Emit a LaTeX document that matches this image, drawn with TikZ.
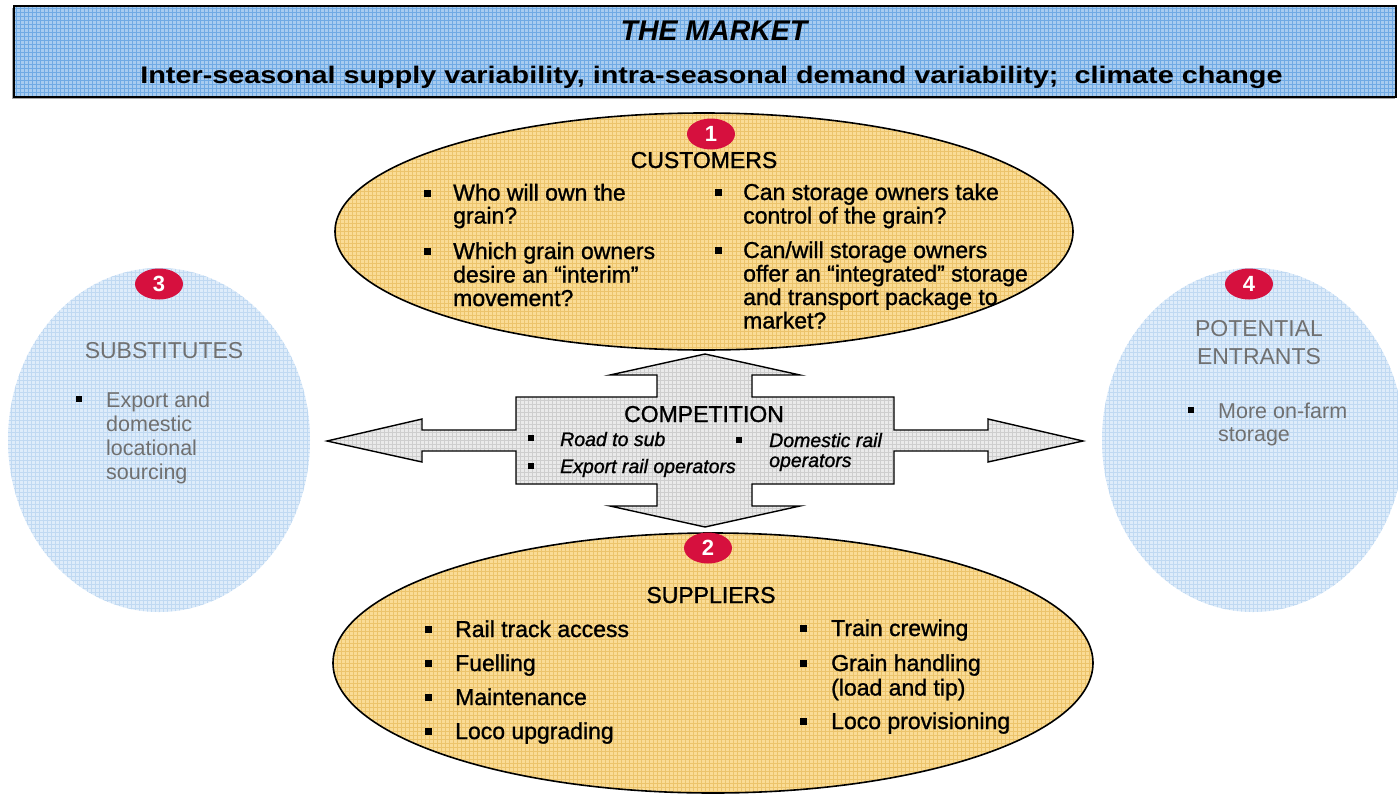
\documentclass[tikz,border=0pt]{standalone}
\usepackage{fontspec}
\setmainfont{Liberation Sans}
\newfontface\medface[FakeBold=1.2]{Liberation Sans}
\newfontface\meditface[FakeBold=1.2]{Liberation Sans Italic}
\usetikzlibrary{shapes.geometric}
\definecolor{bannerfill}{RGB}{168,204,240}
\definecolor{bannergrid}{RGB}{112,170,228}
\definecolor{orangefill}{RGB}{250,220,150}
\definecolor{orangegrid}{RGB}{236,196,108}
\definecolor{bluefill}{RGB}{222,236,250}
\definecolor{bluegrid}{RGB}{192,217,242}
\definecolor{greyfill}{RGB}{234,234,234}
\definecolor{greygrid}{RGB}{206,206,206}
\definecolor{badgered}{RGB}{214,16,62}
\definecolor{greytext}{RGB}{112,112,112}
\tikzset{
  gridded/.style={path picture={\draw[#1, line width=0.5pt] (path picture bounding box.south west) grid[step=4pt] (path picture bounding box.north east);}},
  oval/.style={ellipse, draw=black, line width=1.6pt, inner sep=0pt, outer sep=0pt, fill=orangefill, gridded=orangegrid},
  sideoval/.style={ellipse, inner sep=0pt, outer sep=0pt, fill=bluefill, gridded=bluegrid, minimum width=302pt, minimum height=344pt},
  badge/.style={ellipse, fill=badgered, text=white, font=\fontsize{22}{22}\selectfont\bfseries, minimum width=48pt, minimum height=31pt, inner sep=0pt},
  ttl/.style={font=\fontsize{23}{23}\selectfont\medface, anchor=base, inner sep=0pt},
  gttl/.style={font=\fontsize{23}{23}\selectfont, anchor=base, inner sep=0pt, text=greytext},
  itm/.style={font=\fontsize{23}{23}\selectfont\medface, anchor=base west, inner sep=0pt},
  gitm/.style={font=\fontsize{21.5}{21.5}\selectfont, anchor=base west, inner sep=0pt, text=greytext},
  citm/.style={font=\fontsize{19.5}{19.5}\selectfont\meditface, anchor=base west, inner sep=0pt},
  bul/.style={rectangle, fill=black, minimum size=7pt, inner sep=0pt},
  sbul/.style={rectangle, fill=black, minimum size=5.5pt, inner sep=0pt},
}
\begin{document}
\begin{tikzpicture}[x=1pt,y=-1pt]
\useasboundingbox (0,0) rectangle (1398,795);
\fill[white] (0,0) rectangle (1398,795);

% banner
\fill[gray!70] (12,8) rectangle (1394.5,99);
\path[fill=bannerfill, gridded=bannergrid, draw=black, line width=2pt] (14,6) rectangle (1396,97);
\node[font=\fontsize{28.5}{28.5}\selectfont\bfseries\itshape, anchor=base, inner sep=0pt] (market) at (714,40) {THE MARKET};
\node[font=\fontsize{24}{24}\selectfont\bfseries, anchor=base, inner sep=0pt] (forces) at (711.5,83) {\scalebox{1.2}[1]{Inter-seasonal supply variability, intra-seasonal demand variability;\ \ climate change}};

% side ovals
\node[sideoval] (subs) at (159,440) {};
\node[sideoval] (entr) at (1253,440) {};
\node[badge] (b3) at (159,284) {3};
\node[badge] (b4) at (1249,284) {4};

\node[gttl] (subst) at (164,358) {SUBSTITUTES};
\node[sbul] (sb1) at (79,399) {};
\node[gitm] (s1) at (106,407) {Export and};
\node[gitm] (s2) at (106,431) {domestic};
\node[gitm] (s3) at (106,455) {locational};
\node[gitm] (s4) at (106,479) {sourcing};

\node[gttl] (entt1) at (1259,336) {POTENTIAL};
\node[gttl] (entt2) at (1259,364) {ENTRANTS};
\node[sbul] (eb1) at (1191,410) {};
\node[gitm] (e1) at (1218,418) {More on-farm};
\node[gitm] (e2) at (1218,441) {storage};

% customers
\node[oval, minimum width=738pt, minimum height=237pt] (cust) at (704,231.5) {};
\node[badge] (b1) at (711,134) {1};
\node[ttl] (custt) at (704,168) {CUSTOMERS};
\node[bul] (cb1) at (427,193) {};
\node[itm] (c1) at (453,200.5) {Who will own the};
\node[itm] (c2) at (453,223.5) {grain?};
\node[bul] (cb2) at (427,251) {};
\node[itm] (c3) at (453,259) {Which grain owners};
\node[itm] (c4) at (453,282.5) {desire an “interim”};
\node[itm] (c5) at (453,306) {movement?};
\node[bul] (cb3) at (718,192) {};
\node[itm] (c6) at (743,200) {Can storage owners take};
\node[itm] (c7) at (743,223.5) {control of the grain?};
\node[bul] (cb4) at (718,250) {};
\node[itm] (c8) at (743,258) {Can/will storage owners};
\node[itm] (c9) at (743,281.5) {offer an “integrated” storage};
\node[itm] (c10) at (743,305) {and transport package to};
\node[itm] (c11) at (743,328.5) {market?};

% suppliers
\node[oval, minimum width=760pt, minimum height=260pt] (supp) at (713,663) {};
\node[badge] (b2) at (708,548) {2};
\node[ttl] (suppt) at (711,603) {SUPPLIERS};
\node[bul] (pb1) at (428,629) {};
\node[itm] (p1) at (455,637) {Rail track access};
\node[bul] (pb2) at (428,663) {};
\node[itm] (p2) at (455,671) {Fuelling};
\node[bul] (pb3) at (428,697) {};
\node[itm] (p3) at (455,705) {Maintenance};
\node[bul] (pb4) at (428,731) {};
\node[itm] (p4) at (455,739) {Loco upgrading};
\node[bul] (pb5) at (803,628) {};
\node[itm] (p5) at (831,636) {Train crewing};
\node[bul] (pb6) at (803,663) {};
\node[itm] (p6) at (831,671) {Grain handling};
\node[itm] (p7) at (831,695.5) {(load and tip)};
\node[bul] (pb7) at (803,721) {};
\node[itm] (p8) at (831,729) {Loco provisioning};

% competition cross arrow
\path[fill=greyfill, gridded=greygrid, draw=black, line width=1.4pt, line join=miter]
  (705,354) -- (800,375) -- (752,375) -- (752,397) -- (894,397) -- (894,430) -- (988,430) -- (988,419) -- (1083,441) -- (988,462) -- (988,451) -- (894,451) -- (894,484) -- (752,484) -- (752,506) -- (800,506) -- (705,527) -- (610,506) -- (657,506) -- (657,484) -- (516,484) -- (516,451) -- (422,451) -- (422,462) -- (327,441) -- (422,419) -- (422,430) -- (516,430) -- (516,397) -- (657,397) -- (657,375) -- (610,375) -- cycle;
\node[ttl] (compt) at (704,422) {COMPETITION};
\node[sbul] (kb1) at (531,438) {};
\node[citm] (k1) at (560,446) {Road to sub};
\node[sbul] (kb2) at (531,466) {};
\node[citm] (k2) at (560,473) {Export rail operators};
\node[sbul] (kb3) at (739,440) {};
\node[citm] (k3) at (769,447) {Domestic rail};
\node[citm] (k4) at (769,467) {operators};
\end{tikzpicture}
\end{document}
